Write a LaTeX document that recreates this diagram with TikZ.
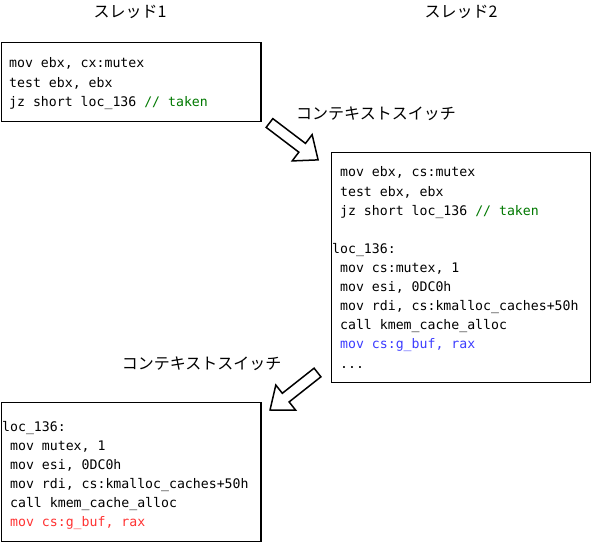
\documentclass[tikz,border=0pt]{standalone}
\usepackage{fontspec}
\setmonofont{DejaVu Sans Mono}
\newfontfamily\jpfont{Noto Sans CJK JP}
\definecolor{cgreen}{RGB}{0,120,0}
\definecolor{cblue}{RGB}{60,60,255}
\definecolor{cred}{RGB}{255,50,50}
\begin{document}
\begin{tikzpicture}[x=1pt,y=-1pt,
  codebox/.style={draw=black, line width=1.2pt, inner sep=0pt, anchor=north west},
  code/.style={anchor=base west, inner sep=0pt, font=\ttfamily\fontsize{13.2}{16}\selectfont},
  jp/.style={inner sep=0pt, font=\jpfont\fontsize{16}{18}\selectfont},
  hollowarrow/.style={draw=black, line width=1.5pt, fill=white, line join=miter}]
\useasboundingbox (0,0) rectangle (591,545);

% titles
\node[jp] (t1) at (130,11.5) {スレッド1};
\node[jp] (t2) at (461,11.5) {スレッド2};

% boxes
\node[codebox, minimum width=259.6pt, minimum height=79pt] (box1) at (0.7,41.7) {};
\node[codebox, minimum width=259.3pt, minimum height=230pt] (box2) at (330.7,151.7) {};
\node[codebox, minimum width=259.6pt, minimum height=139.3pt] (box3) at (0.7,401.7) {};

% box 1 code
\node[code] (a1) at (9,68) {mov ebx, cx:mutex};
\node[code] (a2) at (9,87.1) {test ebx, ebx};
\node[code] (a3) at (9,106.2) {jz short loc\_136 \textcolor{cgreen}{// taken}};

% box 2 code
\node[code] (b1) at (332,177) {\phantom{x}mov ebx, cs:mutex};
\node[code] (b2) at (332,196.1) {\phantom{x}test ebx, ebx};
\node[code] (b3) at (332,215.2) {\phantom{x}jz short loc\_136 \textcolor{cgreen}{// taken}};
\node[code] (b4) at (332,253.4) {loc\_136:};
\node[code] (b5) at (332,272.5) {\phantom{x}mov cs:mutex, 1};
\node[code] (b6) at (332,291.6) {\phantom{x}mov esi, 0DC0h};
\node[code] (b7) at (332,310.7) {\phantom{x}mov rdi, cs:kmalloc\_caches+50h};
\node[code] (b8) at (332,329.8) {\phantom{x}call kmem\_cache\_alloc};
\node[code] (b9) at (332,348.9) {\phantom{x}\textcolor{cblue}{mov cs:g\_buf, rax}};
\node[code] (b10) at (332,368) {\phantom{x}...};

% box 3 code
\node[code] (c1) at (2,431) {loc\_136:};
\node[code] (c2) at (2,450) {\phantom{x}mov mutex, 1};
\node[code] (c3) at (2,469) {\phantom{x}mov esi, 0DC0h};
\node[code] (c4) at (2,488) {\phantom{x}mov rdi, cs:kmalloc\_caches+50h};
\node[code] (c5) at (2,507) {\phantom{x}call kmem\_cache\_alloc};
\node[code] (c6) at (2,526) {\phantom{x}\textcolor{cred}{mov cs:g\_buf, rax}};

% context switch labels
\node[jp] (s1) at (376,114) {コンテキストスイッチ};
\node[jp] (s2) at (201.7,364) {コンテキストスイッチ};

% hollow block arrows (tail at origin, pointing along local x)
\begin{scope}[shift={(269.5,123)}, rotate=-37.2]
  \draw[hollowarrow] (0,-5.5) -- (41,-5.5) -- (41,-16.5) -- (61,0) -- (41,16.5) -- (41,5.5) -- (0,5.5) -- cycle;
\end{scope}
\begin{scope}[shift={(317.5,372.5)}, rotate=218.3]
  \draw[hollowarrow] (0,-5.5) -- (40.5,-5.5) -- (40.5,-16) -- (60.5,0) -- (40.5,16) -- (40.5,5.5) -- (0,5.5) -- cycle;
\end{scope}
\end{tikzpicture}
\end{document}
